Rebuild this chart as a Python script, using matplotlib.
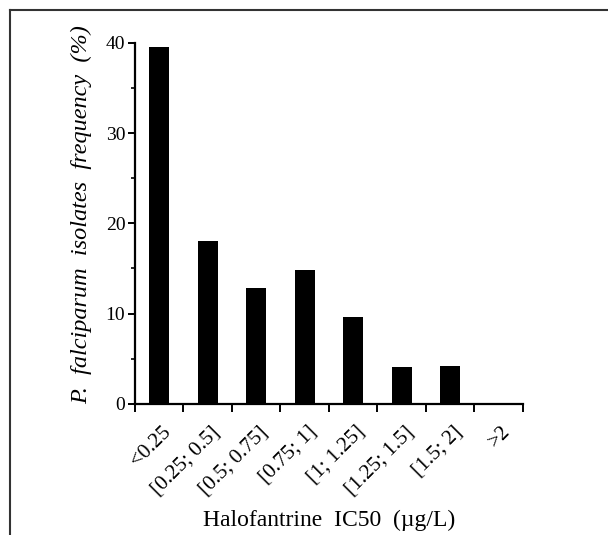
import matplotlib
matplotlib.use("Agg")
import matplotlib.pyplot as plt
import matplotlib.transforms as mtransforms
from matplotlib.lines import Line2D
from matplotlib.ticker import FixedLocator, MultipleLocator

categories = ["<0.25", "[0.25; 0.5]", "[0.5; 0.75]", "[0.75; 1]",
              "[1; 1.25]", "[1.25; 1.5]", "[1.5; 2]", ">2"]
frequency = [39.5, 18.0, 12.8, 14.8, 9.6, 4.1, 4.2, 0.0]
y_ticks = [0, 10, 20, 30, 40]

plt.rcParams['font.family'] = ['Liberation Serif', 'DejaVu Serif']

fig = plt.figure(figsize=(6.08, 5.35), dpi=100)
ax = fig.add_axes([0.2220, 0.2449, 0.6382, 0.6753])

x = list(range(len(categories)))
ax.bar(x, frequency, width=0.41, color='black')

ax.set_xlim(-0.5, len(categories) - 0.5)
ax.set_ylim(0, 40)

for s in ['top', 'right']:
    ax.spines[s].set_visible(False)
for s in ['left', 'bottom']:
    ax.spines[s].set_linewidth(1.6)

ax.set_yticks(y_ticks)
ax.yaxis.set_minor_locator(MultipleLocator(5))
ax.tick_params(axis='y', which='major', direction='out', length=5, width=1.4,
               labelsize=14, pad=2)
ax.tick_params(axis='y', which='minor', direction='out', length=3, width=1.2)

ax.set_xticks(x)
ax.set_xticklabels(categories, rotation=45, ha='right', va='center',
                   rotation_mode='anchor', fontsize=15.2)
ax.xaxis.set_minor_locator(FixedLocator([i - 0.5 for i in range(len(categories) + 1)]))
ax.tick_params(axis='x', which='major', length=0, pad=18)
ax.tick_params(axis='x', which='minor', direction='out', length=6, width=1.4)

offset = mtransforms.ScaledTranslation(9 / 100, 0, fig.dpi_scale_trans)
for lab in ax.get_xticklabels():
    lab.set_transform(lab.get_transform() + offset)

ax.set_ylabel("P.  falciparum  isolates  frequency  (%)", fontsize=17.5,
              fontstyle='italic', labelpad=10)
ax.yaxis.label.set_y(0.525)
ax.set_xlabel("Halofantrine  IC50  (µg/L)", fontsize=17)
ax.xaxis.set_label_coords(0.5, -0.294)

fig.add_artist(Line2D([10 / 608, 1.0], [1 - 10 / 535, 1 - 10 / 535],
                      transform=fig.transFigure, color='#333333', lw=1.5))
fig.add_artist(Line2D([10 / 608, 10 / 608], [1 - 10 / 535, 0.0],
                      transform=fig.transFigure, color='#333333', lw=1.5))

fig.savefig("out.png", dpi=100)
